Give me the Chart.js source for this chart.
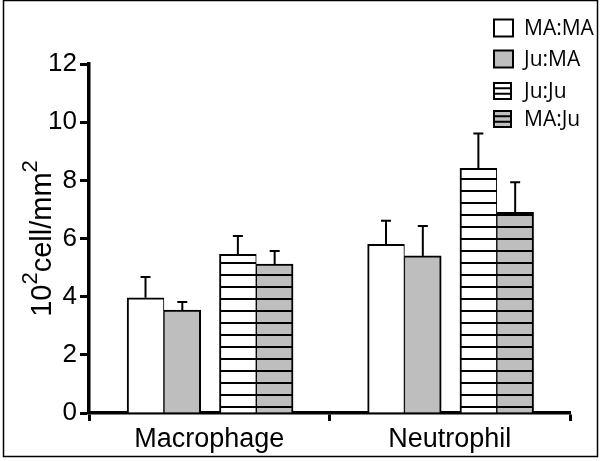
<!DOCTYPE html>
<html>
<head>
<meta charset="utf-8">
<script src="https://cdn.jsdelivr.net/npm/chart.js@4.4.0/dist/chart.umd.min.js"></script>
<style>
html, body { margin: 0; padding: 0; background: #fff; }
#wrap { position: relative; width: 600px; height: 461px; }
</style>
</head>
<body>
<div id="wrap"><canvas id="myChart"></canvas></div>
<script>
// data
const groups = ["Macrophage", "Neutrophil"];
const seriesNames = ["MA:MA", "Ju:MA", "Ju:Ju", "MA:Ju"];
const maMa = [3.96, 5.80];
const juMa = [3.54, 5.40];
const juJu = [5.46, 8.41];
const maJu = [5.12, 6.90];
const maMaErr = [0.72, 0.81];
const juMaErr = [0.28, 1.03];
const juJuErr = [0.63, 1.20];
const maJuErr = [0.45, 1.03];
const yTicks = [0, 2, 4, 6, 8, 10, 12];

const seriesValues = [maMa, juMa, juJu, maJu];
const seriesErrors = [maMaErr, juMaErr, juJuErr, maJuErr];

// layout: where each bar sits inside its group (category units)
const slotOffsets = [-0.265, -0.112, 0.119, 0.272];
const baseColors = ["#ffffff", "#bebebe", "#ffffff", "#bebebe"];
const striped = [false, false, true, true];

function makeFill(color, stripes) {
    if (!stripes) return color;
    const c = document.createElement("canvas");
    c.width = 8; c.height = 12;
    const g = c.getContext("2d");
    g.fillStyle = color;
    g.fillRect(0, 0, 8, 12);
    g.fillStyle = "#000";
    g.fillRect(0, 10, 8, 2);
    return document.getElementById("myChart").getContext("2d").createPattern(c, "repeat");
}

const fontFamily = "'Liberation Sans', Arial, sans-serif";

const errorBars = {
    id: "errorBars",
    afterDatasetsDraw(chart) {
        const ctx = chart.ctx;
        const y = chart.scales.y;
        ctx.save();
        ctx.strokeStyle = "#000";
        ctx.lineWidth = 2;
        chart.data.datasets.forEach((ds, d) => {
            chart.getDatasetMeta(d).data.forEach((bar, i) => {
                const top = y.getPixelForValue(seriesValues[d][i] + seriesErrors[d][i]);
                ctx.beginPath();
                ctx.moveTo(bar.x, bar.y);
                ctx.lineTo(bar.x, top);
                ctx.moveTo(bar.x - 5, top);
                ctx.lineTo(bar.x + 5, top);
                ctx.stroke();
            });
        });
        ctx.restore();
    }
};

const decorations = {
    id: "decorations",
    afterDraw(chart) {
        const ctx = chart.ctx;
        ctx.save();
        // outer frame
        ctx.strokeStyle = "#000";
        ctx.lineWidth = 1.5;
        ctx.strokeRect(3.5, 0.5, 594, 456);

        // y axis title with superscripts
        const area = chart.chartArea;
        const big = "29px " + fontFamily;
        const small = "22px " + fontFamily;
        const parts = [["10", big, 0], ["2", small, -14], ["cell/mm", big, 0], ["2", small, -14]];
        let total = 0;
        parts.forEach(p => { ctx.font = p[1]; total += ctx.measureText(p[0]).width; });
        ctx.translate(51, (area.top + area.bottom) / 2);
        ctx.rotate(-Math.PI / 2);
        ctx.fillStyle = "#000";
        ctx.textBaseline = "alphabetic";
        let x = -total / 2;
        parts.forEach(p => {
            ctx.font = p[1];
            ctx.fillText(p[0], x, p[2]);
            x += ctx.measureText(p[0]).width;
        });
        ctx.setTransform(1, 0, 0, 1, 0, 0);

        // legend
        const rows = [28, 59, 91, 119];
        ctx.font = "21px 'Open Sans', sans-serif";
        ctx.textBaseline = "middle";
        seriesNames.forEach((name, d) => {
            const w = striped[d] ? 17 : 19;
            const h = striped[d] ? 16 : 17;
            const bx = 494, by = rows[d] - h / 2;
            ctx.fillStyle = baseColors[d];
            ctx.fillRect(bx, by, w, h);
            ctx.strokeStyle = "#000";
            ctx.lineWidth = 2;
            if (striped[d]) {
                ctx.beginPath();
                ctx.moveTo(bx, by + h / 3); ctx.lineTo(bx + w, by + h / 3);
                ctx.moveTo(bx, by + 2 * h / 3); ctx.lineTo(bx + w, by + 2 * h / 3);
                ctx.stroke();
            }
            ctx.strokeRect(bx, by, w, h);
            ctx.fillStyle = "#000";
            ctx.fillText(name, 524, rows[d] + 1);
        });
        ctx.restore();
    }
};

new Chart("myChart", {
    type: "bar",
    data: {
        labels: groups,
        datasets: seriesNames.map((name, d) => ({
            label: name,
            data: seriesValues[d].map((v, i) => ({ x: i + slotOffsets[d], y: v })),
            xAxisID: "xb",
            yAxisID: "y",
            backgroundColor: makeFill(baseColors[d], striped[d]),
            borderColor: "#000",
            borderWidth: d % 2 === 0 ? { left: 2, right: 1, top: 2, bottom: 0 } : { left: 1, right: 2, top: 2, bottom: 0 },
            borderSkipped: false,
            grouped: false,
            barPercentage: 1,
            categoryPercentage: 1
        }))
    },
    options: {
        responsive: true,
        maintainAspectRatio: false,
        animation: false,
        layout: { padding: { left: 0, top: 64, right: 30, bottom: 0 } },
        plugins: {
            legend: { display: false },
            tooltip: { enabled: false }
        },
        scales: {
            x: {
                type: "category",
                labels: groups,
                offset: true,
                grid: { offset: true, drawOnChartArea: false, color: "#000", tickLength: 8, tickWidth: 3 },
                border: { color: "#000", width: 3.5 },
                ticks: { color: "#000", font: { family: fontFamily, size: 27 }, padding: 2 },
                afterFit: s => { s.height = 48; }
            },
            xb: {
                type: "linear",
                min: -0.5,
                max: 1.5,
                offset: false,
                display: false,
                grid: { offset: false },
                ticks: { stepSize: 1 }
            },
            y: {
                min: 0,
                max: 12,
                afterBuildTicks: s => { s.ticks = yTicks.map(v => ({ value: v })); },
                grid: { drawOnChartArea: false, color: "#000", tickLength: 9, tickWidth: 3 },
                border: { color: "#000", width: 3.5 },
                ticks: { color: "#000", font: { family: fontFamily, size: 26 }, padding: 3 },
                afterFit: s => { s.width = 89; }
            }
        }
    },
    plugins: [errorBars, decorations]
});
</script>
</body>
</html>
